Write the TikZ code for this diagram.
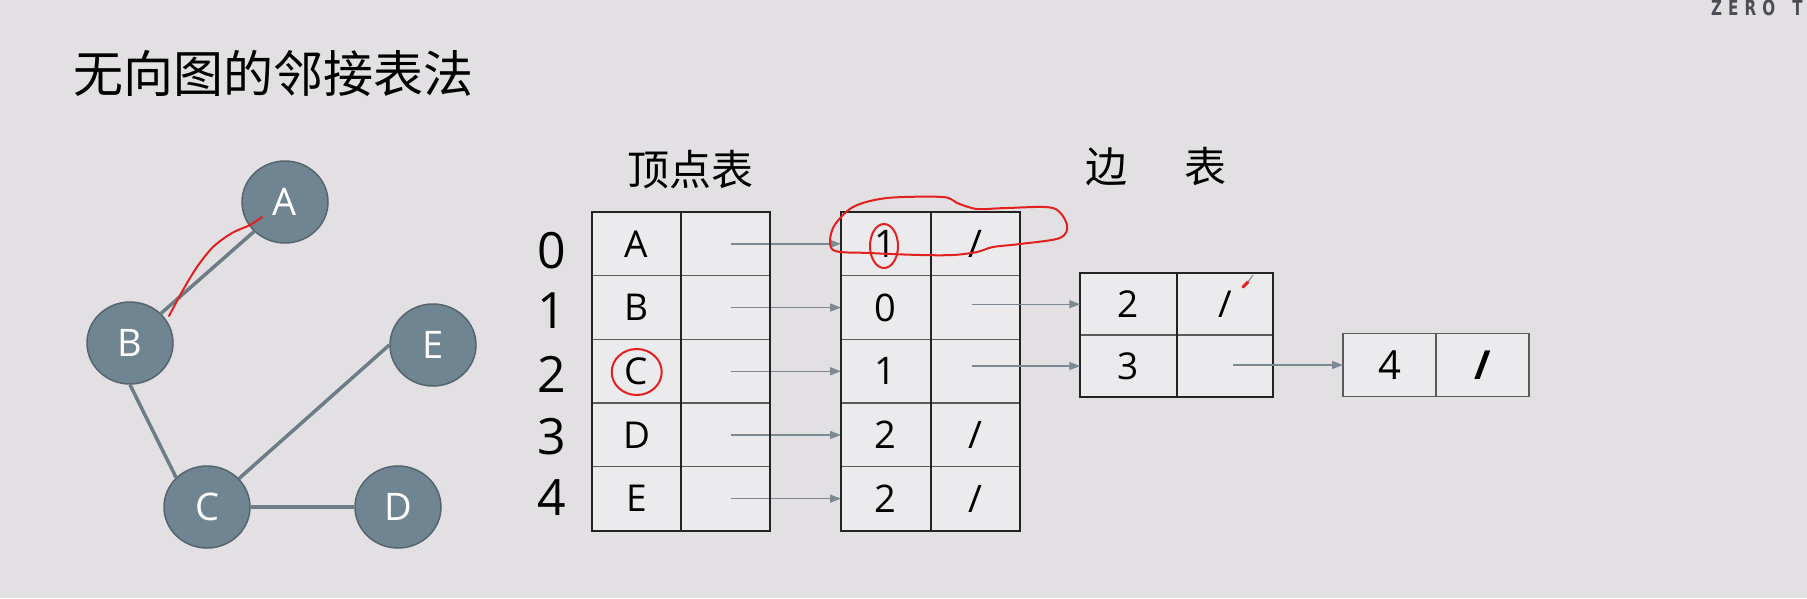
\documentclass[tikz,border=0pt]{standalone}
\usepackage{graphicx}
\usepackage{fontspec}
\setmainfont{Open Sans}
\newfontfamily\cjk{Noto Sans CJK SC}
\newfontfamily\zfont[LetterSpace=40]{DejaVu Sans Bold}
\usetikzlibrary{arrows.meta,shapes.geometric}
\definecolor{bgc}{HTML}{E2E0E3}
\definecolor{cellc}{HTML}{EBEAEC}
\definecolor{nodefill}{HTML}{6F8591}
\definecolor{nodeborder}{HTML}{56656D}
\definecolor{edgecol}{HTML}{6C7D86}
\definecolor{arrowcol}{HTML}{7D8992}
\definecolor{gridthin}{HTML}{5A5A5A}
\definecolor{gridthick}{HTML}{232323}
\definecolor{penred}{HTML}{E3201E}
\definecolor{zcol}{HTML}{4C4C56}
\newcommand\myslash{/}
\tikzset{
  gnode/.style={ellipse, minimum width=86pt, minimum height=82pt, inner sep=0pt,
    fill=nodefill, draw=nodeborder, line width=1.5pt, text=white,
    font=\fontsize{38}{42}\selectfont},
  gedge/.style={draw=edgecol, line width=3.5pt},
  cell/.style={rectangle, draw=gridthin, line width=1.3pt, fill=cellc,
    inner sep=0pt, outer sep=0pt},
  vcell/.style={cell, minimum width=89pt, minimum height=63.7pt, font=\fontsize{37}{42}\selectfont},
  ecell/.style={cell, minimum width=89.5pt, minimum height=63.7pt, font=\fontsize{38}{42}\selectfont},
  bcell/.style={cell, minimum width=96.5pt, minimum height=61.7pt, font=\fontsize{37}{42}\selectfont},
  ccell/.style={cell, minimum width=93pt, minimum height=63.4pt, font=\fontsize{40}{44}\selectfont},
  frame/.style={draw=gridthick, line width=2pt},
  ptr/.style={draw=arrowcol, line width=1.4pt, -{Triangle[length=11pt,width=8pt]}},
  idx/.style={font=\fontsize{50}{56}\selectfont, inner sep=0pt},
  redpen/.style={draw=penred, line width=2pt, line cap=round, line join=round},
}
\begin{document}
\begin{tikzpicture}[x=1pt,y=-1pt]
\fill[bgc] (0,0) rectangle (1807,598);
\useasboundingbox (0,0) rectangle (1807,598);

% corner logo and title
\node[anchor=base west, text=zcol, inner sep=0pt] (logo) at (1711,15)
  {\scalebox{0.72}[1]{\zfont\fontsize{21}{22}\selectfont ZERO\kern 24pt T}};
\node[anchor=west, font=\cjk\fontsize{50}{56}\selectfont, inner sep=0pt] (title) at (73,73) {无向图的邻接表法};

% graph
\node[gnode] (A) at (285,202) {A};
\node[gnode] (B) at (130,343) {B};
\node[gnode] (E) at (433,345) {E};
\node[gnode] (C) at (207,507) {C};
\node[gnode] (D) at (398,507) {D};
\draw[gedge] (B.north east) -- (A.south west);
\draw[gedge] (B.south) -- (C.north west);
\draw[gedge] (C) -- (E.west);
\draw[gedge] (C.east) -- (D.west);

% headers
\node[font=\cjk\fontsize{42}{48}\selectfont, inner sep=0pt] (hv) at (690,170) {顶点表};
\node[font=\cjk\fontsize{42}{48}\selectfont, inner sep=0pt] (he1) at (1106,167) {边};
\node[font=\cjk\fontsize{42}{48}\selectfont, inner sep=0pt] (he2) at (1205.5,167) {表};

% vertex table and first edge cells
\foreach \i/\l/\d/\s/\iy in {0/A/1/\myslash/251, 1/B/0//311, 2/C/1//374, 3/D/2/\myslash/437, 4/E/2/\myslash/498}{
  \pgfmathsetmacro{\yc}{243.85+63.7*\i}
  \node[idx] (i\i) at (552,\iy) {\i};
  \node[vcell] (v\i) at (636.5,\yc) {\l};
  \node[vcell] (p\i) at (725.5,\yc) {};
  \node[ecell] (e\i) at (885.75,\yc) {\d};
  \node[ecell] (n\i) at (975.25,\yc) {\s};
  \draw[ptr] ([xshift=5pt]p\i.center) -- (e\i.west);
}
\draw[frame] (v0.north west) rectangle (p4.south east);
\draw[frame] (v0.north east) -- (v4.south east);
\draw[frame] (e0.north west) rectangle (n4.south east);
\draw[frame] (e0.north east) -- (e4.south east);

% second block
\node[bcell] (b2) at (1128.5,304.2) {2};
\node[bcell] (b2p) at (1225,304.2) {/};
\node[bcell] (b3) at (1128.5,366) {3};
\node[bcell] (b3p) at (1225,366) {};
\draw[frame] (b2.north west) rectangle (b3p.south east);
\draw[frame] (b2.north east) -- (b3.south east);
\draw[ptr] ([xshift=-3pt]n1.center |- b2.west) -- (b2.west);
\draw[ptr] ([xshift=-3pt]n2.center |- b3.west) -- (b3.west);

% third block
\node[ccell] (c4) at (1389.5,365) {4};
\node[ccell] (c4p) at (1482.5,365) {\bfseries /};
\draw[ptr] ([xshift=8pt]b3p.center |- c4.west) -- (c4.west);

% red hand annotations
\draw[redpen] plot[smooth] coordinates {(262,217) (250,225) (232,233) (213,247) (197,267) (183,290) (169,316)};
\draw[redpen] (636.7,372) ellipse [x radius=25pt, y radius=23pt];
\draw[redpen] (884,246) ellipse [x radius=14pt, y radius=22pt];
\draw[redpen] plot[smooth cycle] coordinates {(833,228) (853,207) (887,198) (943,197) (957,203) (977,209) (1007,208) (1053,208) (1067,225) (1060,238) (1020,244) (993,247) (977,252) (953,255) (920,255) (870,253) (833,250)};
\draw[draw=penred, line width=3pt, line cap=round] (1243,287) -- (1248,282);
\draw[draw=gray, line width=1pt] (1248,282) -- (1253,275);
\end{tikzpicture}
\end{document}
